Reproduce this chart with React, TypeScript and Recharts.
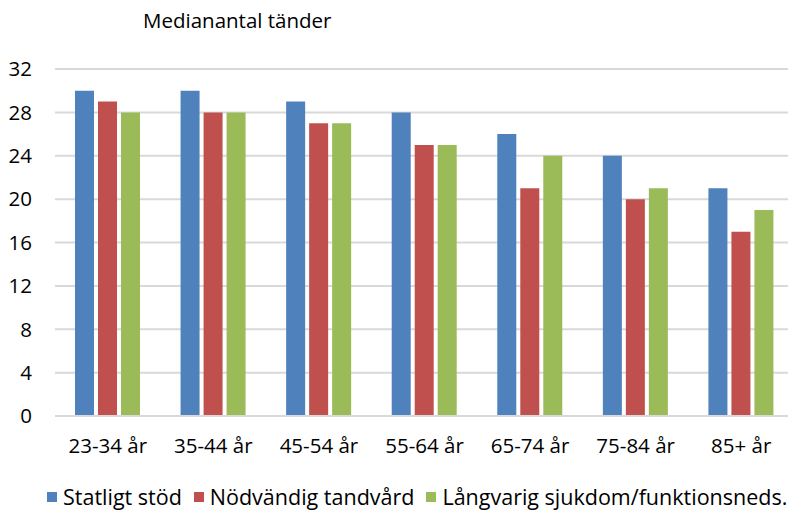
import React from 'react';
import { BarChart, Bar, XAxis, YAxis, CartesianGrid } from 'recharts';

const categories = ['23-34 år', '35-44 år', '45-54 år', '55-64 år', '65-74 år', '75-84 år', '85+ år'];
const statligtStod = [30, 30, 29, 28, 26, 24, 21];
const nodvandigTandvard = [29, 28, 27, 25, 21, 20, 17];
const langvarigSjukdom = [28, 28, 27, 25, 24, 21, 19];
const yTicks = [0, 4, 8, 12, 16, 20, 24, 28, 32];

const series = [
  { key: 'statligt', name: 'Statligt stöd', color: '#4F81BD' },
  { key: 'nodvandig', name: 'Nödvändig tandvård', color: '#C0504D' },
  { key: 'langvarig', name: 'Långvarig sjukdom/funktionsneds.', color: '#9BBB59' },
];

const data = categories.map((c, i) => ({
  category: c,
  statligt: statligtStod[i],
  nodvandig: nodvandigTandvard[i],
  langvarig: langvarigSjukdom[i],
}));

const font = '"Open Sans", Lato, sans-serif';
const fontSize = 20.5;

export default function App() {
  return (
    <div style={{ position: 'fixed', left: 0, top: 0, width: 788, height: 513, overflow: 'hidden', background: '#fff' }}>
      <div style={{ position: 'absolute', left: 143, top: 7, fontFamily: font, fontSize, color: '#000', lineHeight: '26px' }}>
        Medianantal tänder
      </div>
      <BarChart
        width={800}
        height={513}
        data={data}
        margin={{ top: 69, right: 6, left: 0, bottom: 67 }}
        barSize={19}
        barGap={4}
      >
        <CartesianGrid vertical={false} stroke="#d9d9d9" strokeWidth={2} />
        <XAxis
          dataKey="category"
          height={30}
          axisLine={{ stroke: '#d9d9d9', strokeWidth: 2 }}
          tickLine={false}
          tick={{ fill: '#000', fontSize, fontFamily: font }}
          tickMargin={16}
        />
        <YAxis
          width={55}
          domain={[0, 32]}
          ticks={yTicks}
          axisLine={false}
          tickLine={false}
          tick={{ fill: '#000', fontSize, fontFamily: font }}
          tickMargin={17}
        />
        {series.map(s => (
          <Bar key={s.key} dataKey={s.key} name={s.name} fill={s.color} isAnimationActive={false} />
        ))}
      </BarChart>
      <div
        style={{
          position: 'absolute',
          left: 47,
          top: 484,
          display: 'flex',
          alignItems: 'center',
          fontFamily: font,
          fontSize: 21.5,
          color: '#000',
          lineHeight: '26px',
          whiteSpace: 'nowrap',
        }}
      >
        {series.map(s => (
          <div key={s.key} style={{ display: 'flex', alignItems: 'center', marginRight: 12 }}>
            <span style={{ width: 10, height: 10, background: s.color, display: 'inline-block', marginRight: 6 }} />
            <span>{s.name}</span>
          </div>
        ))}
      </div>
    </div>
  );
}
